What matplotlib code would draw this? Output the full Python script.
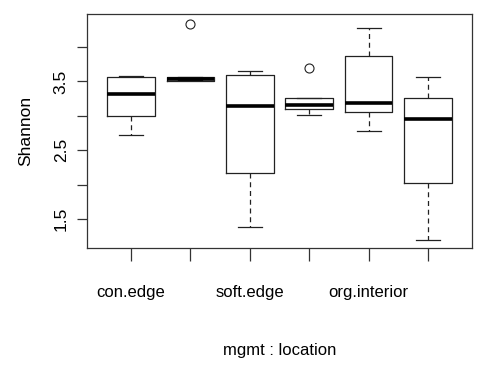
import matplotlib
matplotlib.use("Agg")
import matplotlib.pyplot as plt

# Shannon diversity summary per mgmt:location group
groups = ["con.edge", "con.interior", "soft.edge", "soft.interior", "org.edge", "org.interior"]
tick_labels = ["con.edge", "", "soft.edge", "", "org.interior", ""]
whislo = [2.72, 3.52, 1.39, 3.01, 2.78, 1.20]
q1 = [3.00, 3.51, 2.17, 3.10, 3.06, 2.03]
med = [3.32, 3.53, 3.14, 3.16, 3.18, 2.95]
q3 = [3.57, 3.57, 3.59, 3.26, 3.87, 3.26]
whishi = [3.58, 3.57, 3.65, 3.26, 4.27, 3.57]
fliers = [[], [4.34], [], [3.69], [], []]

plt.rcParams["font.family"] = ["Liberation Sans", "DejaVu Sans"]

fig = plt.figure(figsize=(4.84, 3.71), dpi=100)
ax = fig.add_axes([87 / 484, 1 - 248 / 371, (472 - 87) / 484, (248 - 14) / 371])

stats = []
for i, g in enumerate(groups):
    stats.append(dict(label=g, med=med[i], q1=q1[i], q3=q3[i],
                      whislo=whislo[i], whishi=whishi[i], fliers=fliers[i]))

positions = list(range(1, len(groups) + 1))
ax.bxp(stats, positions=positions, widths=0.8, showfliers=True,
       boxprops=dict(color="#222222", linewidth=0.9),
       whiskerprops=dict(color="#222222", linewidth=0.9, linestyle=(0, (4, 3))),
       capprops=dict(color="#222222", linewidth=0.9),
       medianprops=dict(color="black", linewidth=2.6, solid_capstyle="butt"),
       flierprops=dict(marker="o", markerfacecolor="none", markeredgecolor="#222222",
                       markersize=6.5, markeredgewidth=0.8),
       capwidths=0.4)

ax.set_xlim(0.26, 6.74)
ax.set_ylim(1.08, 4.48)

ax.set_xticks(positions)
ax.set_xticklabels(tick_labels, fontsize=12)
ax.set_yticks([1.5, 2.0, 2.5, 3.0, 3.5, 4.0])
ax.set_yticklabels(["1.5", "", "2.5", "", "3.5", ""], fontsize=12.5,
                   rotation=90, va="center")

ax.tick_params(axis="x", direction="out", length=9.5, width=0.9, pad=17,
               color="#333333")
ax.tick_params(axis="y", direction="out", length=7.2, width=0.9, pad=6,
               color="#333333")

for s in ax.spines.values():
    s.set_linewidth(0.9)
    s.set_color("#333333")

ax.set_xlabel("mgmt : location", fontsize=12, labelpad=31)
ax.set_ylabel("Shannon", fontsize=12.5, labelpad=15)

fig.savefig("out.png", dpi=100)
